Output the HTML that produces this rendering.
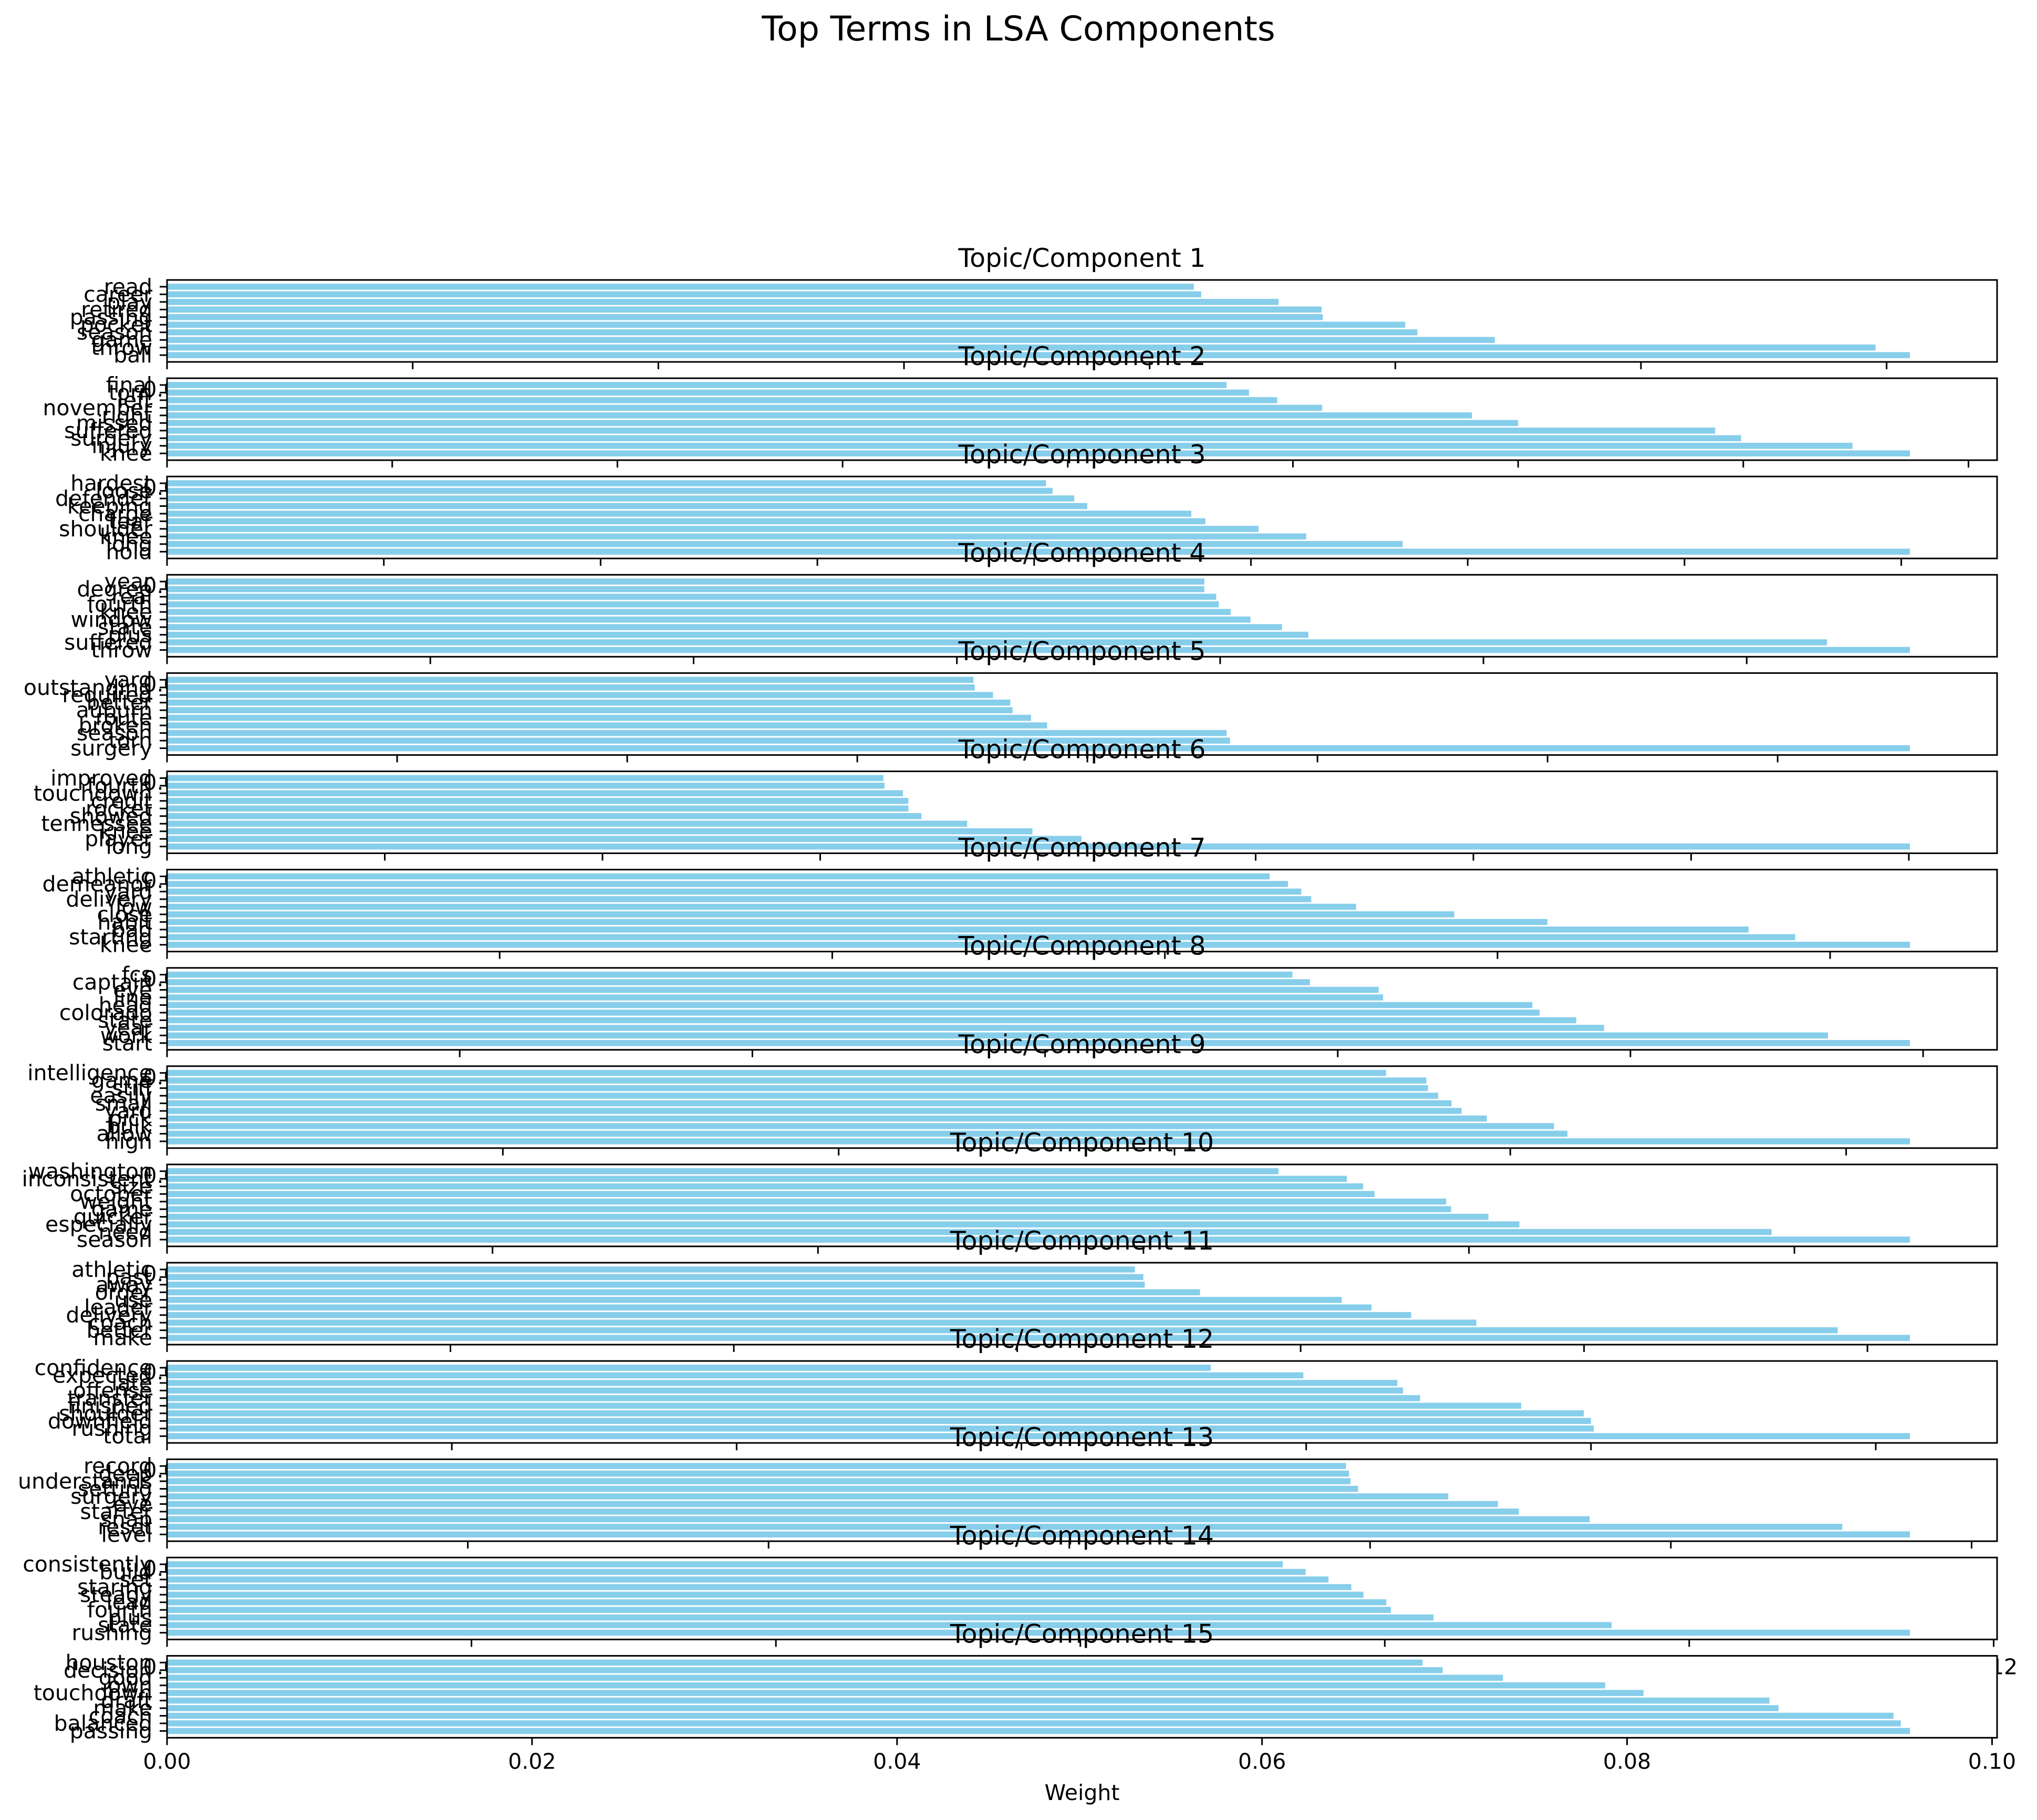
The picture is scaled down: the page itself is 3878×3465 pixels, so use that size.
<!DOCTYPE html>
<html><head><meta charset="utf-8"><style>html,body{margin:0;padding:0;background:#fff}svg{display:block}text{font-family:"DejaVu Sans","Liberation Sans",sans-serif;fill:#000}</style></head>
<body>
<svg id="chart" xmlns="http://www.w3.org/2000/svg" width="3878" height="3465" viewBox="0 0 3878 3465">
<rect x="0" y="0" width="3878" height="3465" fill="#fff"/>
<text x="1939" y="77" font-size="65" text-anchor="middle">Top Terms in LSA Components</text>
<g id="plots"></g>
<text x="2060" y="3427" font-size="41" text-anchor="middle">Weight</text>
</svg>
<script>
const terms1=["ball","throw","game","season","pocket","passing","retired","play","career","read"];
const vals1=[0.1419,0.1391,0.1081,0.1018,0.1008,0.0941,0.0940,0.0905,0.0842,0.0836];
const terms2=["knee","injury","surgery","suffered","missed","right","november","left","torn","final"];
const vals2=[0.1548,0.1497,0.1398,0.1375,0.1200,0.1159,0.1026,0.0986,0.0961,0.0941];
const terms3=["hold","long","knee","shoulder","tear","charge","keeping","defender","loose","hardest"];
const vals3=[0.1608,0.1140,0.1051,0.1007,0.0958,0.0945,0.0849,0.0837,0.0817,0.0811];
const terms4=["throw","suffered","plus","state","window","knee","fourth","real","degree","year"];
const vals4=[0.1324,0.1261,0.0867,0.0847,0.0823,0.0808,0.0799,0.0797,0.0788,0.0788];
const terms5=["surgery","torn","season","broken","route","auburn","better","required","outstanding","yard"];
const vals5=[0.1515,0.0924,0.0921,0.0765,0.0751,0.0735,0.0733,0.0718,0.0702,0.0701];
const terms6=["long","player","knee","tennessee","showed","rocket","credit","touchdown","fourth","improved"];
const vals6=[0.1601,0.0840,0.0795,0.0735,0.0693,0.0681,0.0681,0.0676,0.0659,0.0658];
const terms7=["knee","starting","bad","habit","close","low","delivery","yard","demeanor","athletic"];
const vals7=[0.1048,0.0979,0.0951,0.0830,0.0774,0.0715,0.0688,0.0682,0.0674,0.0663];
const terms8=["start","work","year","state","colorado","head","line","eye","captain","fcs"];
const vals8=[0.1191,0.1135,0.0982,0.0963,0.0938,0.0933,0.0831,0.0828,0.0781,0.0769];
const terms9=["high","allow","bulk","pick","yard","small","easily","stiff","game","intelligence"];
const vals9=[0.1038,0.0834,0.0826,0.0786,0.0771,0.0765,0.0757,0.0751,0.0750,0.0726];
const terms10=["season","need","especially","quicker","game","weight","october","size","inconsistent","washington"];
const vals10=[0.1071,0.0986,0.0831,0.0812,0.0789,0.0786,0.0742,0.0735,0.0725,0.0683];
const terms11=["make","better","coach","delivery","leader","use","order","away","past","athletic"];
const vals11=[0.1230,0.1179,0.0924,0.0878,0.0850,0.0829,0.0729,0.0690,0.0689,0.0683];
const terms12=["total","rushing","downfield","shoulder","finished","transfer","offense","late","expected","confidence"];
const vals12=[0.1224,0.1002,0.1000,0.0995,0.0951,0.0880,0.0868,0.0864,0.0798,0.0733];
const terms13=["level","reset","snap","starter","eye","surgery","setting","understands","deep","record"];
const vals13=[0.1159,0.1114,0.0946,0.0899,0.0885,0.0852,0.0792,0.0787,0.0786,0.0784];
const terms14=["rushing","state","plus","fourth","lead","steady","staring","set","build","consistently"];
const vals14=[0.1145,0.0949,0.0832,0.0804,0.0801,0.0786,0.0778,0.0763,0.0748,0.0733];
const terms15=["passing","balanced","coach","make","draft","touchdown","own","good","decision","houston"];
const vals15=[0.0955,0.0950,0.0946,0.0883,0.0878,0.0809,0.0788,0.0732,0.0699,0.0688];
const xTickStep=0.02;

const allTerms=[terms1,terms2,terms3,terms4,terms5,terms6,terms7,terms8,terms9,terms10,terms11,terms12,terms13,terms14,terms15];
const allVals=[vals1,vals2,vals3,vals4,vals5,vals6,vals7,vals8,vals9,vals10,vals11,vals12,vals13,vals14,vals15];

const NS="http://www.w3.org/2000/svg";
const root=document.getElementById('plots');
const L=318,R=3802,W=R-L,H=156,TOP0=533,PITCH=187.1;
function mk(tag,attrs,parent){const e=document.createElementNS(NS,tag);for(const k in attrs)e.setAttribute(k,attrs[k]);parent.appendChild(e);return e;}

for(let i=0;i<15;i++){
  const terms=allTerms[i],vals=allVals[i];
  const top=TOP0+PITCH*i,bot=top+H;
  const xmax=Math.max(...vals)*1.05;
  const xs=v=>L+v/xmax*W;
  const y0=-0.89,y1=9.89;
  const ys=v=>top+(y1-v)/(y1-y0)*H;
  const g=mk('g',{},root);
  
  
  const bg=mk('rect',{x:L,y:top,width:W,height:H,fill:'#fff'},g);
  
  
  for(let j=0;j<vals.length;j++){
    const b=mk('rect',{x:L,y:ys(j+0.4),width:xs(vals[j])-L,height:ys(j-0.4)-ys(j+0.4),fill:'#87ceeb'},g);
    
    
    mk('line',{x1:L-14,x2:L,y1:ys(j),y2:ys(j),stroke:'#000','stroke-width':3},g);
    const t=mk('text',{x:290,y:ys(j),'font-size':41,'text-anchor':'end','dominant-baseline':'central'},g);
    t.textContent=terms[j];
    
    
  }
  const labelOff=(i===14)?59:66;
  for(let k=0;k*xTickStep<=xmax+1e-9;k++){
    const v=k*xTickStep,x=xs(v);
    mk('line',{x1:x,x2:x,y1:bot,y2:bot+14,stroke:'#000','stroke-width':3},g);
    const t=mk('text',{x:x,y:bot+labelOff,'font-size':41,'text-anchor':'middle'},g);
    t.textContent=v.toFixed(2);
    
    
  }
  const fr=mk('rect',{x:L,y:top,width:W,height:H,fill:'none',stroke:'#000','stroke-width':3},g);
  
  
  const tt=mk('text',{x:(L+R)/2,y:top-25,'font-size':49,'text-anchor':'middle'},g);
  tt.textContent='Topic/Component '+(i+1);
  
  
}
</script>
</body></html>
